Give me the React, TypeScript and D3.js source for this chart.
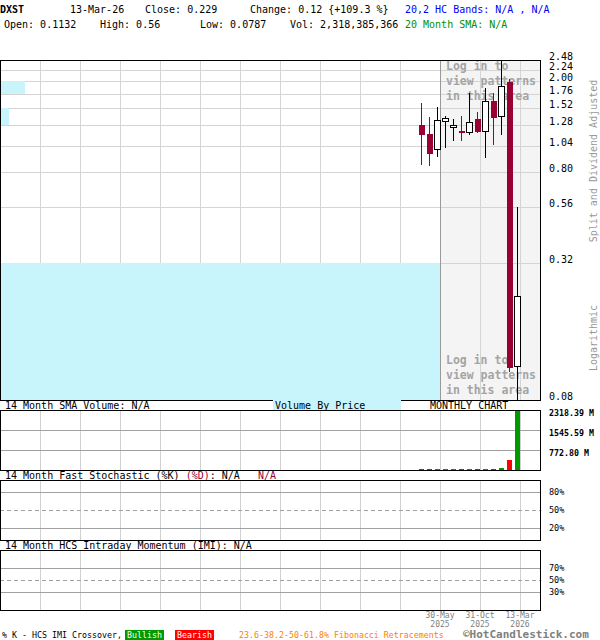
import * as d3 from 'd3';

// monthly candles, Mar 2025 .. Mar 2026
const months = ['Mar-25', 'Apr-25', 'May-25', 'Jun-25', 'Jul-25', 'Aug-25', 'Sep-25', 'Oct-25', 'Nov-25', 'Dec-25', 'Jan-26', 'Feb-26', 'Mar-26'];
const opens = [1.286, 1.175, 1.006, 1.343, 1.257, 1.214, 1.195, 1.362, 1.211, 1.639, 1.409, 1.98, 0.1132];
const highs = [1.606, 1.399, 1.538, 1.409, 1.367, 1.409, 1.772, 1.471, 1.864, 1.772, 2.48, 2.04, 0.56];
const lows = [0.859, 0.85, 0.934, 1.023, 1.098, 1.098, 1.166, 1.183, 0.925, 1.051, 1.163, 0.106, 0.0787];
const closes = [1.163, 0.96, 1.353, 1.381, 1.282, 1.183, 1.326, 1.202, 1.639, 1.385, 1.908, 0.111, 0.229];
const volumes = [48, 45, 46, 44, 47, 45, 43, 46, 48, 44, 92, 388, 2318.39]; // millions

const priceTicks = [2.48, 2.24, 2.0, 1.76, 1.52, 1.28, 1.04, 0.8, 0.56, 0.32, 0.08];
const volTicks = [2318.39, 1545.59, 772.8];
const stochTicks = [80, 50, 20];
const imiTicks = [70, 50, 30];
const dateMonths = [2, 7, 12];
const dateLabels = [['30-May', '2025'], ['31-Oct', '2025'], ['13-Mar', '2026']];

// volume by price bins
const vbpLow = [1.76, 1.28, 0.08];
const vbpHigh = [2.0, 1.52, 0.32];
const vbpVolume = [132, 47, 2318];

const MONO = "'DejaVu Sans Mono', monospace";
const CRIMSON = '#990033';
const CYAN = '#c8f4fc';

const App = () => {
    const left = 0, right = 540;
    const main = { top: 60, bottom: 400 };
    const vol = { top: 410, bottom: 470 };
    const stoch = { top: 480, bottom: 540 };
    const imi = { top: 550, bottom: 610 };

    const x = d3.scaleLinear().domain([0, 12]).range([421, 517]);
    const gx = (m: number) => x(m) + 3;
    const gridMonths = d3.range(12, -49, -5);

    const y = d3.scaleLog().domain([0.08, 2.48]).range([main.bottom, main.top]);
    const yv = d3.scaleLinear().domain([0, 2318.39]).range([vol.bottom, vol.top]);
    const ys = d3.scaleLinear().domain([0, 100]).range([stoch.bottom, stoch.top]);
    const yi = d3.scaleLinear().domain([0, 100]).range([imi.bottom, imi.top]);
    const xv = d3.scaleLinear().domain([0, 2318]).range([left, 440]);

    const vGrid = (top: number, bottom: number, color: string) =>
        gridMonths.map(m => (
            <line key={m} x1={gx(m)} x2={gx(m)} y1={top} y2={bottom}
                stroke={m === 2 && top === main.top ? '#999' : color} strokeWidth={1} />
        ));

    const frame = (top: number, bottom: number) => (
        <rect x={left + 0.5} y={top + 0.5} width={right - left} height={bottom - top}
            fill="none" stroke="#000" strokeWidth={1} />
    );

    const loginText = (y0: number) => (
        <g fontFamily={MONO} fontSize={11.5} fontWeight="bold" fill="#a4a4a4">
            {['Log in to', 'view patterns', 'in this area'].map((t, i) => (
                <text key={t} x={446} y={y0 + i * 15}>{t}</text>
            ))}
        </g>
    );

    return (
        <div style={{ position: 'absolute', left: 0, top: 0 }}>
            <svg width={600} height={640} style={{ display: 'block', background: '#fff' }} shapeRendering="crispEdges">
                <defs>
                    <clipPath id="mainClip">
                        <rect x={left} y={main.top} width={right - left} height={main.bottom - main.top} />
                    </clipPath>
                </defs>

                {/* header */}
                <g fontFamily={MONO} fontSize={10} fill="#000">
                    <text x={0} y={13} fontWeight="bold">DXST</text>
                    <text x={70} y={13}>13-Mar-26</text>
                    <text x={145} y={13}>Close: 0.229</text>
                    <text x={250} y={13}>Change: 0.12 {'{'}+109.3 %{'}'}</text>
                    <text x={405} y={13} fill="#0000ff">20,2 HC Bands: N/A , N/A</text>
                    <text x={4} y={28}>Open: 0.1132</text>
                    <text x={100} y={28}>High: 0.56</text>
                    <text x={200} y={28}>Low: 0.0787</text>
                    <text x={290} y={28}>Vol: 2,318,385,366</text>
                    <text x={405} y={28} fill="#009000">20 Month SMA: N/A</text>
                </g>

                {/* main price panel */}
                <rect x={440} y={main.top} width={right - 440} height={main.bottom - main.top} fill="#f4f4f4" />
                {priceTicks.map(p => (
                    <line key={p} x1={left} x2={right} y1={Math.round(y(p)) + 0.5} y2={Math.round(y(p)) + 0.5}
                        stroke="#d4d4d4" />
                ))}
                {vGrid(main.top, main.bottom, '#d4d4d4')}
                {vbpLow.map((lo, i) => (
                    <rect key={lo} x={left} y={y(vbpHigh[i])} width={xv(vbpVolume[i]) - left}
                        height={y(lo) - y(vbpHigh[i])} fill={CYAN} />
                ))}
                {loginText(70)}
                {loginText(364)}
                <g clipPath="url(#mainClip)">
                    {months.map((mo, i) => {
                        const up = closes[i] >= opens[i];
                        const cx = Math.round(x(i));
                        const color = up ? '#000' : CRIMSON;
                        const yTop = y(Math.max(opens[i], closes[i]));
                        const yBot = y(Math.min(opens[i], closes[i]));
                        return (
                            <g key={mo}>
                                <line x1={cx + 0.5} x2={cx + 0.5} y1={y(highs[i])} y2={y(lows[i])}
                                    stroke={color} strokeWidth={up ? 1 : 1.3} />
                                {up ? (
                                    <rect x={cx - 2.5} y={Math.round(yTop) + 0.5} width={6}
                                        height={Math.max(1, Math.round(yBot - yTop))}
                                        fill="#fff" stroke="#000" strokeWidth={1} />
                                ) : (
                                    <rect x={cx - 2.5} y={yTop} width={6} height={Math.max(2, yBot - yTop)} fill={CRIMSON} />
                                )}
                            </g>
                        );
                    })}
                </g>
                {frame(main.top, main.bottom)}
                <g fontFamily={MONO} fontSize={10} fill="#000">
                    {priceTicks.map(p => (
                        <text key={p} x={549} y={y(p)}>{p.toFixed(2)}</text>
                    ))}
                </g>
                <g fontFamily={MONO} fontSize={10} fill="#999">
                    <text transform="translate(597,161) rotate(-90)" textAnchor="middle">Split and Dividend Adjusted</text>
                    <text transform="translate(597,338) rotate(-90)" textAnchor="middle">Logarithmic</text>
                </g>

                {/* volume panel */}
                <rect x={273} y={main.bottom} width={128} height={vol.top - main.bottom} fill={CYAN} />
                <g fontFamily={MONO} fontSize={10} fill="#000">
                    <text x={5} y={409}>14 Month SMA Volume: N/A</text>
                    <text x={275} y={409}>Volume By Price</text>
                    <text x={430} y={409}>MONTHLY CHART</text>
                </g>
                {vGrid(vol.top, vol.bottom, '#d0d0d0')}
                {volTicks.slice(1).map(v => (
                    <line key={v} x1={left} x2={right} y1={Math.round(yv(v)) + 0.5} y2={Math.round(yv(v)) + 0.5} stroke="#a0a0a0" />
                ))}
                {months.map((mo, i) => (
                    <rect key={mo} x={Math.round(x(i)) - 2.5} y={yv(volumes[i])} width={5}
                        height={Math.max(1, vol.bottom - yv(volumes[i]))}
                        fill={closes[i] >= opens[i] ? '#009900' : '#ff0000'} />
                ))}
                {frame(vol.top, vol.bottom)}
                <g fontFamily={MONO} fontSize={8.3} fontWeight="bold" fill="#000">
                    {volTicks.map(v => (
                        <text key={v} x={549} y={yv(v) + 6}>{v.toFixed(2)} M</text>
                    ))}
                </g>

                {/* stochastic panel */}
                <text x={5} y={479} fontFamily={MONO} fontSize={10} fill="#000" style={{ whiteSpace: 'pre' }}>
                    {'14 Month Fast Stochastic (%K) '}<tspan fill={CRIMSON}>(%D)</tspan>{': N/A   '}<tspan fill={CRIMSON}>N/A</tspan>
                </text>
                {vGrid(stoch.top, stoch.bottom, '#d0d0d0')}
                {stochTicks.map(t => (
                    <line key={t} x1={left} x2={right} y1={Math.round(ys(t)) + 0.5} y2={Math.round(ys(t)) + 0.5}
                        stroke="#a0a0a0" strokeDasharray={t === 50 ? '4,3' : undefined} />
                ))}
                {frame(stoch.top, stoch.bottom)}
                <g fontFamily={MONO} fontSize={8.5} fill="#000">
                    {stochTicks.map(t => (
                        <text key={t} x={549} y={ys(t) + 3}>{t}%</text>
                    ))}
                </g>

                {/* IMI panel */}
                <text x={5} y={549} fontFamily={MONO} fontSize={10} fill="#000">14 Month HCS Intraday Momentum (IMI): N/A</text>
                {vGrid(imi.top, imi.bottom, '#d0d0d0')}
                {imiTicks.map(t => (
                    <line key={t} x1={left} x2={right} y1={Math.round(yi(t)) + 0.5} y2={Math.round(yi(t)) + 0.5}
                        stroke="#a0a0a0" strokeDasharray={t === 50 ? '4,3' : undefined} />
                ))}
                {frame(imi.top, imi.bottom)}
                <g fontFamily={MONO} fontSize={8.5} fill="#000">
                    {imiTicks.map(t => (
                        <text key={t} x={549} y={yi(t) + 3}>{t}%</text>
                    ))}
                </g>

                {/* date axis */}
                <g fontFamily={MONO} fontSize={8} fill="#808080" textAnchor="middle">
                    {dateMonths.map((m, i) => (
                        <g key={m}>
                            <text x={gx(m)} y={618}>{dateLabels[i][0]}</text>
                            <text x={gx(m)} y={626.5}>{dateLabels[i][1]}</text>
                        </g>
                    ))}
                </g>

                {/* legend */}
                <g fontFamily={MONO} fontSize={8.3}>
                    <text x={2} y={638} fill="#000">% K - HCS IMI Crossover,</text>
                    <rect x={125} y={630} width={39} height={10} fill="#009900" />
                    <text x={144.5} y={638} fill="#fff" textAnchor="middle">Bullish</text>
                    <rect x={175} y={630} width={39} height={10} fill="#ff0000" />
                    <text x={194.5} y={638} fill="#fff" textAnchor="middle">Bearish</text>
                    <text x={239} y={638} fill="#ff8000">23.6-38.2-50-61.8% Fibonacci Retracements</text>
                </g>
                <text x={463} y={637.5} fontFamily={MONO} fontSize={11} fontWeight="bold" fill="#808080">©HotCandlestick.com</text>
            </svg>
        </div>
    );
};

export default App;
